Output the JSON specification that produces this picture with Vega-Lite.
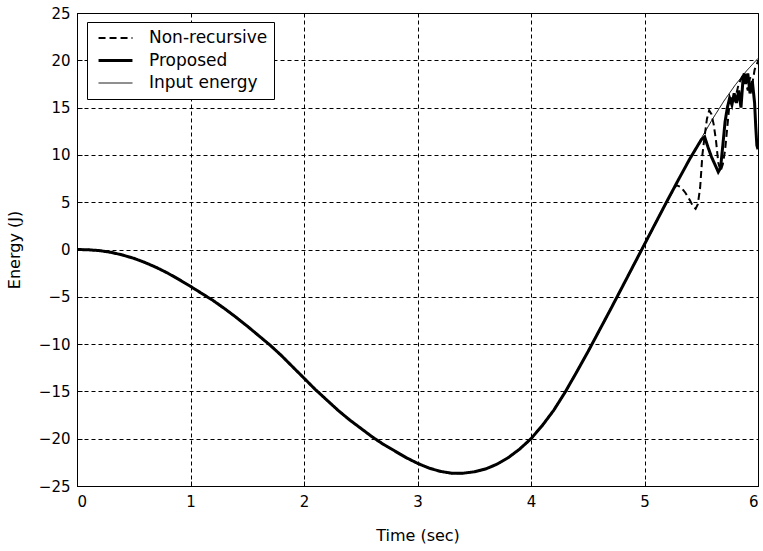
{
  "$schema": "https://vega.github.io/schema/vega-lite/v6.json",
  "width": 681,
  "height": 473,
  "autosize": {"type": "none"},
  "padding": {"left": 77, "top": 13, "right": 5, "bottom": 65},
  "background": "white",
  "config": {
    "view": {"stroke": "black", "strokeWidth": 1},
    "font": "DejaVu Sans",
    "axis": {
      "labelFont": "DejaVu Sans",
      "labelFontSize": 15,
      "labelColor": "black",
      "titleFont": "DejaVu Sans",
      "titleFontSize": 16,
      "titleFontWeight": "normal",
      "titleColor": "black",
      "grid": true,
      "gridColor": "black",
      "gridDash": [4, 3],
      "gridOpacity": 1,
      "gridWidth": 1,
      "ticks": true,
      "tickSize": -5,
      "tickColor": "black",
      "domain": false
    },
    "legend": {
      "title": null,
      "orient": "none",
      "legendX": 10,
      "legendY": 9,
      "symbolType": "stroke",
      "symbolSize": 1150,
      "symbolStrokeColor": "black",
      "symbolOffset": 4,
      "clipHeight": 20,
      "labelFontSize": 17,
      "labelFont": "DejaVu Sans",
      "labelColor": "black",
      "labelOffset": 15,
      "rowPadding": 2.5,
      "padding": 6,
      "fillColor": "white",
      "strokeColor": "black"
    }
  },
  "data": {"name": "rows"},
  "datasets": {
    "rows": [
      {"t": 0.0, "E": 0.0, "s": "Input energy"},
      {"t": 0.1, "E": -0.03, "s": "Input energy"},
      {"t": 0.2, "E": -0.12, "s": "Input energy"},
      {"t": 0.3, "E": -0.3, "s": "Input energy"},
      {"t": 0.4, "E": -0.58, "s": "Input energy"},
      {"t": 0.5, "E": -0.93, "s": "Input energy"},
      {"t": 0.6, "E": -1.38, "s": "Input energy"},
      {"t": 0.7, "E": -1.9, "s": "Input energy"},
      {"t": 0.8, "E": -2.5, "s": "Input energy"},
      {"t": 0.9, "E": -3.18, "s": "Input energy"},
      {"t": 1.0, "E": -3.9, "s": "Input energy"},
      {"t": 1.1, "E": -4.65, "s": "Input energy"},
      {"t": 1.2, "E": -5.4, "s": "Input energy"},
      {"t": 1.3, "E": -6.25, "s": "Input energy"},
      {"t": 1.4, "E": -7.15, "s": "Input energy"},
      {"t": 1.5, "E": -8.1, "s": "Input energy"},
      {"t": 1.6, "E": -9.1, "s": "Input energy"},
      {"t": 1.7, "E": -10.1, "s": "Input energy"},
      {"t": 1.8, "E": -11.2, "s": "Input energy"},
      {"t": 1.9, "E": -12.4, "s": "Input energy"},
      {"t": 2.0, "E": -13.6, "s": "Input energy"},
      {"t": 2.1, "E": -14.8, "s": "Input energy"},
      {"t": 2.2, "E": -15.9, "s": "Input energy"},
      {"t": 2.3, "E": -17.0, "s": "Input energy"},
      {"t": 2.4, "E": -18.0, "s": "Input energy"},
      {"t": 2.5, "E": -18.9, "s": "Input energy"},
      {"t": 2.6, "E": -19.8, "s": "Input energy"},
      {"t": 2.7, "E": -20.6, "s": "Input energy"},
      {"t": 2.8, "E": -21.3, "s": "Input energy"},
      {"t": 2.9, "E": -22.0, "s": "Input energy"},
      {"t": 3.0, "E": -22.6, "s": "Input energy"},
      {"t": 3.1, "E": -23.1, "s": "Input energy"},
      {"t": 3.2, "E": -23.45, "s": "Input energy"},
      {"t": 3.3, "E": -23.65, "s": "Input energy"},
      {"t": 3.4, "E": -23.65, "s": "Input energy"},
      {"t": 3.5, "E": -23.5, "s": "Input energy"},
      {"t": 3.6, "E": -23.2, "s": "Input energy"},
      {"t": 3.7, "E": -22.7, "s": "Input energy"},
      {"t": 3.8, "E": -22.0, "s": "Input energy"},
      {"t": 3.9, "E": -21.1, "s": "Input energy"},
      {"t": 4.0, "E": -20.0, "s": "Input energy"},
      {"t": 4.1, "E": -18.6, "s": "Input energy"},
      {"t": 4.2, "E": -17.0, "s": "Input energy"},
      {"t": 4.3, "E": -15.1, "s": "Input energy"},
      {"t": 4.4, "E": -13.0, "s": "Input energy"},
      {"t": 4.5, "E": -10.85, "s": "Input energy"},
      {"t": 4.6, "E": -8.6, "s": "Input energy"},
      {"t": 4.7, "E": -6.35, "s": "Input energy"},
      {"t": 4.8, "E": -4.05, "s": "Input energy"},
      {"t": 4.9, "E": -1.75, "s": "Input energy"},
      {"t": 5.0, "E": 0.55, "s": "Input energy"},
      {"t": 5.1, "E": 2.85, "s": "Input energy"},
      {"t": 5.2, "E": 5.15, "s": "Input energy"},
      {"t": 5.3, "E": 7.4, "s": "Input energy"},
      {"t": 5.4, "E": 9.6, "s": "Input energy"},
      {"t": 5.5, "E": 11.75, "s": "Input energy"},
      {"t": 5.6, "E": 13.8, "s": "Input energy"},
      {"t": 5.7, "E": 15.7, "s": "Input energy"},
      {"t": 5.8, "E": 17.4, "s": "Input energy"},
      {"t": 5.9, "E": 18.9, "s": "Input energy"},
      {"t": 6.0, "E": 20.2, "s": "Input energy"},

      {"t": 0.0, "E": 0.0, "s": "Non-recursive"},
      {"t": 0.1, "E": -0.03, "s": "Non-recursive"},
      {"t": 0.2, "E": -0.12, "s": "Non-recursive"},
      {"t": 0.3, "E": -0.3, "s": "Non-recursive"},
      {"t": 0.4, "E": -0.58, "s": "Non-recursive"},
      {"t": 0.5, "E": -0.93, "s": "Non-recursive"},
      {"t": 0.6, "E": -1.38, "s": "Non-recursive"},
      {"t": 0.7, "E": -1.9, "s": "Non-recursive"},
      {"t": 0.8, "E": -2.5, "s": "Non-recursive"},
      {"t": 0.9, "E": -3.18, "s": "Non-recursive"},
      {"t": 1.0, "E": -3.9, "s": "Non-recursive"},
      {"t": 1.1, "E": -4.65, "s": "Non-recursive"},
      {"t": 1.2, "E": -5.4, "s": "Non-recursive"},
      {"t": 1.3, "E": -6.25, "s": "Non-recursive"},
      {"t": 1.4, "E": -7.15, "s": "Non-recursive"},
      {"t": 1.5, "E": -8.1, "s": "Non-recursive"},
      {"t": 1.6, "E": -9.1, "s": "Non-recursive"},
      {"t": 1.7, "E": -10.1, "s": "Non-recursive"},
      {"t": 1.8, "E": -11.2, "s": "Non-recursive"},
      {"t": 1.9, "E": -12.4, "s": "Non-recursive"},
      {"t": 2.0, "E": -13.6, "s": "Non-recursive"},
      {"t": 2.1, "E": -14.8, "s": "Non-recursive"},
      {"t": 2.2, "E": -15.9, "s": "Non-recursive"},
      {"t": 2.3, "E": -17.0, "s": "Non-recursive"},
      {"t": 2.4, "E": -18.0, "s": "Non-recursive"},
      {"t": 2.5, "E": -18.9, "s": "Non-recursive"},
      {"t": 2.6, "E": -19.8, "s": "Non-recursive"},
      {"t": 2.7, "E": -20.6, "s": "Non-recursive"},
      {"t": 2.8, "E": -21.3, "s": "Non-recursive"},
      {"t": 2.9, "E": -22.0, "s": "Non-recursive"},
      {"t": 3.0, "E": -22.6, "s": "Non-recursive"},
      {"t": 3.1, "E": -23.1, "s": "Non-recursive"},
      {"t": 3.2, "E": -23.45, "s": "Non-recursive"},
      {"t": 3.3, "E": -23.65, "s": "Non-recursive"},
      {"t": 3.4, "E": -23.65, "s": "Non-recursive"},
      {"t": 3.5, "E": -23.5, "s": "Non-recursive"},
      {"t": 3.6, "E": -23.2, "s": "Non-recursive"},
      {"t": 3.7, "E": -22.7, "s": "Non-recursive"},
      {"t": 3.8, "E": -22.0, "s": "Non-recursive"},
      {"t": 3.9, "E": -21.1, "s": "Non-recursive"},
      {"t": 4.0, "E": -20.0, "s": "Non-recursive"},
      {"t": 4.1, "E": -18.6, "s": "Non-recursive"},
      {"t": 4.2, "E": -17.0, "s": "Non-recursive"},
      {"t": 4.3, "E": -15.1, "s": "Non-recursive"},
      {"t": 4.4, "E": -13.0, "s": "Non-recursive"},
      {"t": 4.5, "E": -10.85, "s": "Non-recursive"},
      {"t": 4.6, "E": -8.6, "s": "Non-recursive"},
      {"t": 4.7, "E": -6.35, "s": "Non-recursive"},
      {"t": 4.8, "E": -4.05, "s": "Non-recursive"},
      {"t": 4.9, "E": -1.75, "s": "Non-recursive"},
      {"t": 5.0, "E": 0.55, "s": "Non-recursive"},
      {"t": 5.1, "E": 2.85, "s": "Non-recursive"},
      {"t": 5.2, "E": 5.15, "s": "Non-recursive"},
      {"t": 5.25, "E": 6.2, "s": "Non-recursive"},
      {"t": 5.28, "E": 6.8, "s": "Non-recursive"},
      {"t": 5.32, "E": 6.6, "s": "Non-recursive"},
      {"t": 5.36, "E": 6.0, "s": "Non-recursive"},
      {"t": 5.4, "E": 5.2, "s": "Non-recursive"},
      {"t": 5.43, "E": 4.5, "s": "Non-recursive"},
      {"t": 5.45, "E": 4.3, "s": "Non-recursive"},
      {"t": 5.47, "E": 4.8, "s": "Non-recursive"},
      {"t": 5.49, "E": 6.5, "s": "Non-recursive"},
      {"t": 5.51, "E": 10.0, "s": "Non-recursive"},
      {"t": 5.53, "E": 12.0, "s": "Non-recursive"},
      {"t": 5.55, "E": 13.8, "s": "Non-recursive"},
      {"t": 5.57, "E": 14.7, "s": "Non-recursive"},
      {"t": 5.59, "E": 14.3, "s": "Non-recursive"},
      {"t": 5.61, "E": 13.2, "s": "Non-recursive"},
      {"t": 5.63, "E": 11.5, "s": "Non-recursive"},
      {"t": 5.65, "E": 9.2, "s": "Non-recursive"},
      {"t": 5.67, "E": 8.3, "s": "Non-recursive"},
      {"t": 5.69, "E": 9.0, "s": "Non-recursive"},
      {"t": 5.71, "E": 10.5, "s": "Non-recursive"},
      {"t": 5.73, "E": 13.0, "s": "Non-recursive"},
      {"t": 5.75, "E": 15.5, "s": "Non-recursive"},
      {"t": 5.77, "E": 16.3, "s": "Non-recursive"},
      {"t": 5.79, "E": 15.8, "s": "Non-recursive"},
      {"t": 5.81, "E": 16.5, "s": "Non-recursive"},
      {"t": 5.83, "E": 17.5, "s": "Non-recursive"},
      {"t": 5.85, "E": 18.0, "s": "Non-recursive"},
      {"t": 5.87, "E": 18.5, "s": "Non-recursive"},
      {"t": 5.89, "E": 17.8, "s": "Non-recursive"},
      {"t": 5.91, "E": 16.8, "s": "Non-recursive"},
      {"t": 5.93, "E": 18.2, "s": "Non-recursive"},
      {"t": 5.95, "E": 17.5, "s": "Non-recursive"},
      {"t": 5.97, "E": 19.0, "s": "Non-recursive"},
      {"t": 5.99, "E": 19.6, "s": "Non-recursive"},
      {"t": 6.0, "E": 19.9, "s": "Non-recursive"},

      {"t": 0.0, "E": 0.0, "s": "Proposed"},
      {"t": 0.1, "E": -0.03, "s": "Proposed"},
      {"t": 0.2, "E": -0.12, "s": "Proposed"},
      {"t": 0.3, "E": -0.3, "s": "Proposed"},
      {"t": 0.4, "E": -0.58, "s": "Proposed"},
      {"t": 0.5, "E": -0.93, "s": "Proposed"},
      {"t": 0.6, "E": -1.38, "s": "Proposed"},
      {"t": 0.7, "E": -1.9, "s": "Proposed"},
      {"t": 0.8, "E": -2.5, "s": "Proposed"},
      {"t": 0.9, "E": -3.18, "s": "Proposed"},
      {"t": 1.0, "E": -3.9, "s": "Proposed"},
      {"t": 1.1, "E": -4.65, "s": "Proposed"},
      {"t": 1.2, "E": -5.4, "s": "Proposed"},
      {"t": 1.3, "E": -6.25, "s": "Proposed"},
      {"t": 1.4, "E": -7.15, "s": "Proposed"},
      {"t": 1.5, "E": -8.1, "s": "Proposed"},
      {"t": 1.6, "E": -9.1, "s": "Proposed"},
      {"t": 1.7, "E": -10.1, "s": "Proposed"},
      {"t": 1.8, "E": -11.2, "s": "Proposed"},
      {"t": 1.9, "E": -12.4, "s": "Proposed"},
      {"t": 2.0, "E": -13.6, "s": "Proposed"},
      {"t": 2.1, "E": -14.8, "s": "Proposed"},
      {"t": 2.2, "E": -15.9, "s": "Proposed"},
      {"t": 2.3, "E": -17.0, "s": "Proposed"},
      {"t": 2.4, "E": -18.0, "s": "Proposed"},
      {"t": 2.5, "E": -18.9, "s": "Proposed"},
      {"t": 2.6, "E": -19.8, "s": "Proposed"},
      {"t": 2.7, "E": -20.6, "s": "Proposed"},
      {"t": 2.8, "E": -21.3, "s": "Proposed"},
      {"t": 2.9, "E": -22.0, "s": "Proposed"},
      {"t": 3.0, "E": -22.6, "s": "Proposed"},
      {"t": 3.1, "E": -23.1, "s": "Proposed"},
      {"t": 3.2, "E": -23.45, "s": "Proposed"},
      {"t": 3.3, "E": -23.65, "s": "Proposed"},
      {"t": 3.4, "E": -23.65, "s": "Proposed"},
      {"t": 3.5, "E": -23.5, "s": "Proposed"},
      {"t": 3.6, "E": -23.2, "s": "Proposed"},
      {"t": 3.7, "E": -22.7, "s": "Proposed"},
      {"t": 3.8, "E": -22.0, "s": "Proposed"},
      {"t": 3.9, "E": -21.1, "s": "Proposed"},
      {"t": 4.0, "E": -20.0, "s": "Proposed"},
      {"t": 4.1, "E": -18.6, "s": "Proposed"},
      {"t": 4.2, "E": -17.0, "s": "Proposed"},
      {"t": 4.3, "E": -15.1, "s": "Proposed"},
      {"t": 4.4, "E": -13.0, "s": "Proposed"},
      {"t": 4.5, "E": -10.85, "s": "Proposed"},
      {"t": 4.6, "E": -8.6, "s": "Proposed"},
      {"t": 4.7, "E": -6.35, "s": "Proposed"},
      {"t": 4.8, "E": -4.05, "s": "Proposed"},
      {"t": 4.9, "E": -1.75, "s": "Proposed"},
      {"t": 5.0, "E": 0.55, "s": "Proposed"},
      {"t": 5.1, "E": 2.85, "s": "Proposed"},
      {"t": 5.2, "E": 5.15, "s": "Proposed"},
      {"t": 5.3, "E": 7.4, "s": "Proposed"},
      {"t": 5.4, "E": 9.6, "s": "Proposed"},
      {"t": 5.5, "E": 11.6, "s": "Proposed"},
      {"t": 5.53, "E": 11.9, "s": "Proposed"},
      {"t": 5.56, "E": 10.8, "s": "Proposed"},
      {"t": 5.59, "E": 9.8, "s": "Proposed"},
      {"t": 5.62, "E": 9.0, "s": "Proposed"},
      {"t": 5.65, "E": 8.2, "s": "Proposed"},
      {"t": 5.67, "E": 8.6, "s": "Proposed"},
      {"t": 5.69, "E": 11.0, "s": "Proposed"},
      {"t": 5.71, "E": 13.5, "s": "Proposed"},
      {"t": 5.73, "E": 15.0, "s": "Proposed"},
      {"t": 5.75, "E": 16.0, "s": "Proposed"},
      {"t": 5.77, "E": 15.3, "s": "Proposed"},
      {"t": 5.79, "E": 16.5, "s": "Proposed"},
      {"t": 5.81, "E": 15.5, "s": "Proposed"},
      {"t": 5.83, "E": 16.8, "s": "Proposed"},
      {"t": 5.85, "E": 15.0, "s": "Proposed"},
      {"t": 5.87, "E": 18.3, "s": "Proposed"},
      {"t": 5.88, "E": 18.6, "s": "Proposed"},
      {"t": 5.89, "E": 17.5, "s": "Proposed"},
      {"t": 5.91, "E": 18.6, "s": "Proposed"},
      {"t": 5.93, "E": 16.5, "s": "Proposed"},
      {"t": 5.95, "E": 17.8, "s": "Proposed"},
      {"t": 5.97, "E": 15.5, "s": "Proposed"},
      {"t": 5.98, "E": 13.0, "s": "Proposed"},
      {"t": 5.99, "E": 11.0, "s": "Proposed"},
      {"t": 6.0, "E": 10.6, "s": "Proposed"}
    ]
  },
  "mark": {"type": "line", "clip": true},
  "encoding": {
    "x": {
      "field": "t",
      "type": "quantitative",
      "scale": {"domain": [0, 6], "nice": false, "zero": false},
      "axis": {"values": [0, 1, 2, 3, 4, 5, 6], "title": "Time (sec)", "labelPadding": 13, "titlePadding": 18}
    },
    "y": {
      "field": "E",
      "type": "quantitative",
      "scale": {"domain": [-25, 25], "nice": false},
      "axis": {"values": [-25, -20, -15, -10, -5, 0, 5, 10, 15, 20, 25], "title": "Energy (J)", "labelPadding": 12, "titlePadding": 16}
    },
    "color": {
      "field": "s",
      "type": "nominal",
      "scale": {"domain": ["Non-recursive", "Proposed", "Input energy"], "range": ["black", "black", "black"]},
      "legend": {}
    },
    "strokeDash": {
      "field": "s",
      "type": "nominal",
      "scale": {"domain": ["Non-recursive", "Proposed", "Input energy"], "range": [[7, 4], [1, 0], [1, 0]]},
      "legend": {}
    },
    "strokeWidth": {
      "field": "s",
      "type": "nominal",
      "scale": {"type": "ordinal", "domain": ["Non-recursive", "Proposed", "Input energy"], "range": [2, 3, 1]},
      "legend": {}
    },
    "order": {"field": "t", "type": "quantitative"}
  }
}
